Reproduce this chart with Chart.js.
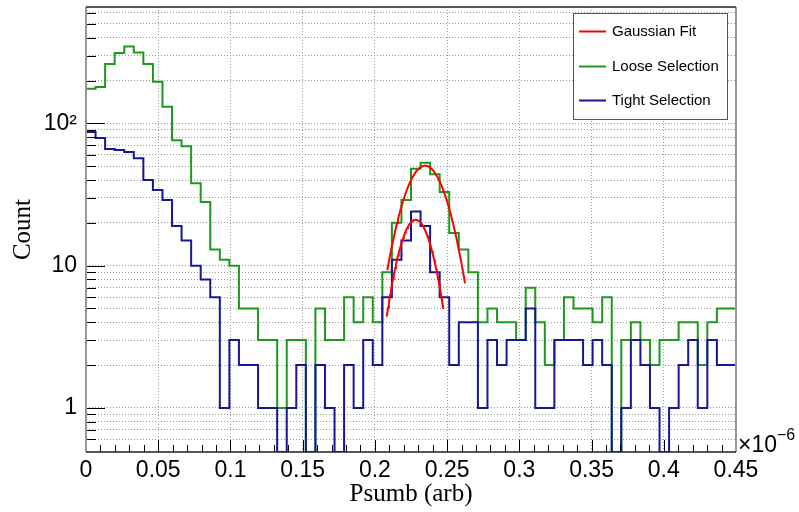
<!DOCTYPE html>
<html>
<head>
<meta charset="utf-8">
<script src="https://cdn.jsdelivr.net/npm/chart.js@4.4.1/dist/chart.umd.min.js"></script>
<style>
  html, body { margin: 0; padding: 0; background: #fff; }
  #wrap { width: 799px; height: 512px; }
</style>
</head>
<body>
<div id="wrap"><canvas id="c" width="799" height="512"></canvas></div>
<script>
/* Psumb histogram, loose vs tight selection, log y */

// binning (x axis in units of 1e-6)
const X_MIN = 0, X_MAX = 0.45;
const N_BINS = 68;
const BIN_W = (X_MAX - X_MIN) / N_BINS;

// counts per bin (last entry is the first bin past the frame)
const LOOSE = [175, 180, 262, 313, 347, 315, 262, 196, 131, 76, 69, 38, 28, 13, 11, 10, 5, 5, 3, 3,
  1, 3, 3, 0, 5, 3, 3, 6, 4, 6, 4, 9, 20, 29, 48, 53, 44, 33, 17, 13,
  9, 4, 5, 4, 4, 3, 7, 4, 2, 3, 6, 5, 5, 4, 6, 0, 3, 4, 3, 2,
  3, 3, 4, 4, 2, 4, 5, 5, 5];
const TIGHT = [87, 79, 66, 65, 63, 57, 40, 34, 29, 19, 15, 10, 8, 6, 1, 3, 2, 2, 1, 1,
  0, 1, 2, 0, 2, 1, 0, 2, 1, 3, 2, 6, 11, 15, 24, 19, 9, 6, 2, 4,
  4, 1, 3, 2, 3, 3, 5, 1, 1, 3, 3, 3, 2, 3, 2, 0, 1, 3, 2, 1,
  0, 1, 2, 3, 1, 3, 2, 2, 3];

// gaussian fit parameters
const FIT_LOOSE = { amp: 50.4, mean: 0.2347, sigma: 0.0142, from: 0.2086, to: 0.2624 };
const FIT_TIGHT = { amp: 21.0, mean: 0.2282, sigma: 0.0113, from: 0.2082, to: 0.2474 };

const X_TICKS  = [0, 0.05, 0.1, 0.15, 0.2, 0.25, 0.3, 0.35, 0.4, 0.45];
const X_LABELS = ['0', '0.05', '0.1', '0.15', '0.2', '0.25', '0.3', '0.35', '0.4', '0.45'];
const Y_MIN = 0.49, Y_MAX = 658;
const Y_GRID = [0.6, 0.7, 0.8, 0.9, 1, 2, 3, 4, 5, 6, 7, 8, 9,
  10, 20, 30, 40, 50, 60, 70, 80, 90, 100, 200, 300, 400, 500, 600];
const Y_LABEL_VALUES = [1, 10, 100];
const Y_LABELS = ['1', '10', '10²'];

const RED = '#ff0000', GREEN = '#1d9a1d', BLUE = '#161696';
const LEGEND = [
  { label: 'Gaussian Fit', color: RED },
  { label: 'Loose Selection', color: GREEN },
  { label: 'Tight Selection', color: BLUE }
];

const SANS = '"Liberation Sans", Arial, sans-serif';
const SERIF = '"Liberation Serif", "Times New Roman", serif';

function histDataset(counts, color, label) {
  // each point sits on a bin's left edge; empty bins drop to the frame bottom like ROOT
  const pts = counts.map((c, i) => ({ x: X_MIN + i * BIN_W, y: c > 0 ? c : Y_MIN }));
  pts.push({ x: X_MIN + counts.length * BIN_W, y: pts[pts.length - 1].y });
  return { label, data: pts, borderColor: color, borderWidth: 2, stepped: 'before', pointRadius: 0, fill: false };
}

function fitDataset(f) {
  const pts = [];
  const n = 80;
  for (let i = 0; i <= n; i++) {
    const x = f.from + (f.to - f.from) * i / n;
    pts.push({ x, y: f.amp * Math.exp(-Math.pow(x - f.mean, 2) / (2 * f.sigma * f.sigma)) });
  }
  return { label: 'Gaussian Fit', data: pts, borderColor: RED, borderWidth: 2, pointRadius: 0, tension: 0, fill: false };
}

const rootFrame = {
  id: 'rootFrame',
  afterDatasetsDraw(chart) {
    const { ctx, chartArea: a, scales: { x, y } } = chart;
    ctx.save();

    // tick marks inside the frame
    ctx.strokeStyle = '#000';
    ctx.lineWidth = 1;
    ctx.beginPath();
    Y_GRID.forEach(v => {
      const py = Math.round(y.getPixelForValue(v)) + 0.5;
      const len = Y_LABEL_VALUES.includes(v) ? 19 : 10;
      ctx.moveTo(a.left, py); ctx.lineTo(a.left + len, py);
    });
    for (let i = 0; i <= 45; i++) {
      const px = Math.round(x.getPixelForValue(i / 100)) + 0.5;
      const len = i % 5 === 0 ? 12 : 7;
      ctx.moveTo(px, a.bottom); ctx.lineTo(px, a.bottom - len);
    }
    ctx.stroke();

    // frame
    ctx.strokeStyle = '#999';
    ctx.lineWidth = 2;
    ctx.beginPath();
    ctx.moveTo(a.left, a.top); ctx.lineTo(a.left, a.bottom);
    ctx.moveTo(a.right, a.top); ctx.lineTo(a.right, a.bottom);
    ctx.stroke();
    ctx.strokeStyle = '#222';
    ctx.lineWidth = 1.5;
    ctx.beginPath();
    ctx.moveTo(a.left, a.top); ctx.lineTo(a.right, a.top);
    ctx.moveTo(a.left, a.bottom); ctx.lineTo(a.right, a.bottom);
    ctx.stroke();

    // axis exponent
    ctx.fillStyle = '#000';
    ctx.textAlign = 'left';
    ctx.textBaseline = 'alphabetic';
    ctx.font = '23px ' + SANS;
    const base = '×10';
    ctx.fillText(base, a.right + 2, a.bottom);
    const bw = ctx.measureText(base).width;
    ctx.font = '16px ' + SANS;
    ctx.fillText('−6', a.right + 2 + bw, a.bottom - 12);

    // legend box
    const lx = a.right - 163, ly = a.top + 6, lw = 154, lh = 106;
    ctx.fillStyle = '#fff';
    ctx.fillRect(lx, ly, lw, lh);
    ctx.strokeStyle = '#555';
    ctx.lineWidth = 1;
    ctx.strokeRect(lx + 0.5, ly + 0.5, lw, lh);
    ctx.font = '15px ' + SANS;
    ctx.textBaseline = 'middle';
    LEGEND.forEach((e, i) => {
      const ey = Math.round(ly + 18 + i * 34.5) + 0.5;
      ctx.strokeStyle = e.color;
      ctx.lineWidth = 2;
      ctx.beginPath();
      ctx.moveTo(lx + 6, ey); ctx.lineTo(lx + 33, ey);
      ctx.stroke();
      ctx.fillStyle = '#000';
      ctx.fillText(e.label, lx + 39, ey);
    });

    ctx.restore();
  }
};

new Chart(document.getElementById('c'), {
  type: 'line',
  data: {
    datasets: [
      fitDataset(FIT_LOOSE),
      fitDataset(FIT_TIGHT),
      histDataset(TIGHT, BLUE, 'Tight Selection'),
      histDataset(LOOSE, GREEN, 'Loose Selection')
    ]
  },
  options: {
    responsive: false,
    animation: false,
    devicePixelRatio: 1,
    layout: { padding: { left: 0, top: 7, right: 63, bottom: 0 } },
    plugins: { legend: { display: false }, tooltip: { enabled: false } },
    scales: {
      x: {
        type: 'linear', min: X_MIN, max: X_MAX,
        afterFit: s => { s.height = 60; s.paddingLeft = 0; s.paddingRight = 0; },
        afterBuildTicks: s => { s.ticks = X_TICKS.map(v => ({ value: v })); },
        ticks: {
          callback: (v, i) => X_LABELS[i],
          font: { family: SANS, size: 23 }, color: '#000',
          padding: 5, maxRotation: 0, autoSkip: false
        },
        grid: { color: '#9a9a9a', lineWidth: 1, drawTicks: false },
        border: { display: false, dash: [1, 2] },
        title: {
          display: true, text: 'Psumb (arb)',
          font: { family: SERIF, size: 25 }, color: '#000',
          padding: { top: 0, bottom: 3 }
        }
      },
      y: {
        type: 'logarithmic', min: Y_MIN, max: Y_MAX,
        afterFit: s => { s.width = 86; s.paddingTop = 0; s.paddingBottom = 0; },
        afterBuildTicks: s => { s.ticks = Y_GRID.map(v => ({ value: v })); },
        ticks: {
          callback: v => { const k = Y_LABEL_VALUES.indexOf(v); return k < 0 ? '' : Y_LABELS[k]; },
          font: { family: SANS, size: 23 }, color: '#000',
          padding: 9, autoSkip: false
        },
        grid: { color: '#9a9a9a', lineWidth: 1, drawTicks: false },
        border: { display: false, dash: [1, 2] },
        title: {
          display: true, text: 'Count',
          font: { family: SERIF, size: 25 }, color: '#000',
          padding: { top: 8, bottom: 0 }
        }
      }
    }
  },
  plugins: [rootFrame]
});
</script>
</body>
</html>
